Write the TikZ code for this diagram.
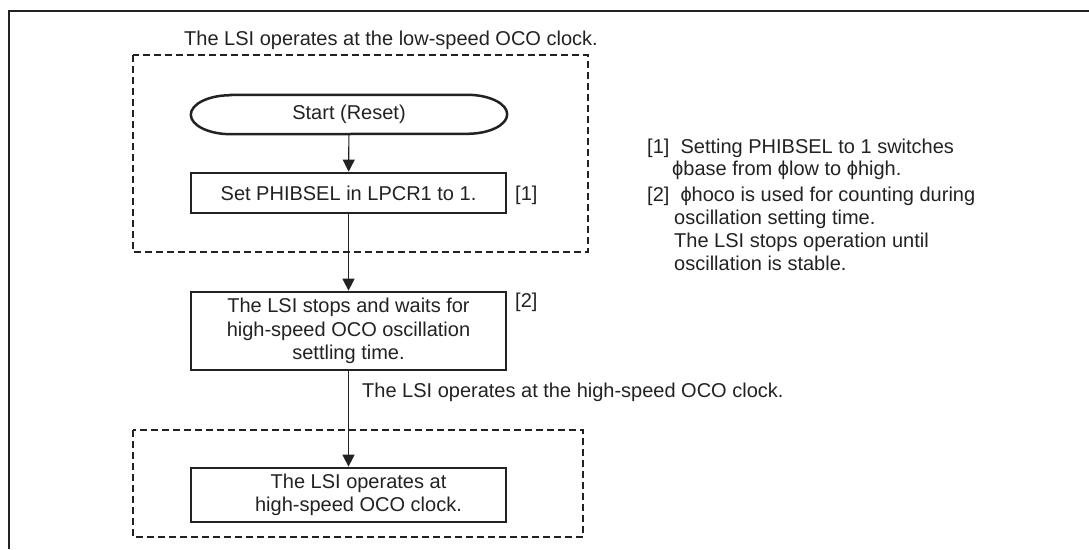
\documentclass[tikz,border=0pt]{standalone}
\usepackage{fontspec}
\setmainfont{Liberation Sans}
\usetikzlibrary{arrows.meta}
\definecolor{ink}{HTML}{222222}
\begin{document}
\begin{tikzpicture}[x=1pt,y=-1pt,
  every node/.style={font=\fontsize{20}{23.5}\selectfont, text=ink},
  procbox/.style={draw=ink, line width=2.7pt, rectangle, minimum width=315pt, inner sep=0pt, align=center},
  termbox/.style={rectangle, minimum width=316pt, minimum height=39pt, inner sep=0pt},
  termline/.style={draw=ink, line width=2.5pt},
  region/.style={draw=ink, line width=2.3pt, dash pattern=on 7pt off 4pt},
  flow/.style={draw=ink, line width=1.1pt, -{Triangle[width=12pt,length=12pt]}},
  note/.style={anchor=base west, inner sep=0pt},
]
\useasboundingbox (0,0) rectangle (1089,549);
\draw[ink, line width=2.4pt] (9,549) -- (9,11) -- (1089,11);

% regions
\draw[region] (133,55) rectangle (588,252);
\draw[region] (133,430) rectangle (583,537);

% labels of regions
\node[note] (toplbl) at (184,45) {The LSI operates at the low-speed OCO clock.};
\node[note] (midlbl) at (362,397) {The LSI operates at the high-speed OCO clock.};

% flow nodes
\node[termbox] (start) at (349,114.5) {Start (Reset)};
\draw[termline] ([xshift=40pt]start.north west) -- ([xshift=-40pt]start.north east)
  arc[start angle=90, end angle=-90, x radius=40pt, y radius=19.5pt]
  -- ([xshift=40pt]start.south west)
  arc[start angle=270, end angle=90, x radius=40pt, y radius=19.5pt] -- cycle;
\node[procbox, minimum height=40pt] (set) at (348.5,193) {Set PHIBSEL in LPCR1 to 1.};
\node[procbox, minimum height=78pt] (wait) at (348.5,331) {The LSI stops and waits for\\high-speed OCO oscillation\\settling time.};
\node[procbox, minimum height=54pt] (run) at (348.5,495) {\hspace*{20pt}The LSI operates at\\\hspace*{20pt}high-speed OCO clock.};

\node[note] (ref1) at (515,200) {[1]};
\node[note] (ref2) at (515,307) {[2]};

% connectors
\draw[flow] (start) -- (set);
\draw[flow] (set) -- (wait);
\draw[flow] (wait) -- (run);

% notes
\node[note] (n1a) at (647,153) {[1]\ \ Setting PHIBSEL to 1 switches};
\node[note] (n1b) at (672,175) {ϕbase from ϕlow to ϕhigh.};
\node[note] (n2a) at (647,201) {[2]\ \ ϕhoco is used for counting during};
\node[note] (n2b) at (674,224) {oscillation setting time.};
\node[note] (n2c) at (674,247) {The LSI stops operation until};
\node[note] (n2d) at (674,270) {oscillation is stable.};
\end{tikzpicture}
\end{document}
